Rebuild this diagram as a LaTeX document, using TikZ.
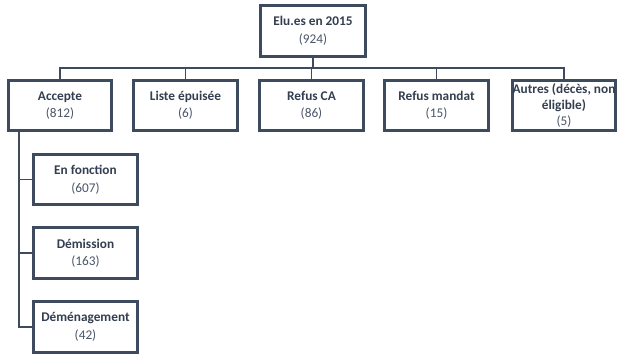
\documentclass[tikz,border=0pt]{standalone}
\usepackage{fontspec}
\setmainfont{Carlito}
\usetikzlibrary{backgrounds}
\definecolor{boxc}{HTML}{3E4B5E}
\definecolor{titc}{HTML}{333F50}
\definecolor{numc}{HTML}{4A5568}
\newcommand{\ttl}[1]{\textbf{\textcolor{titc}{#1}}}
\begin{document}
\begin{tikzpicture}[x=1pt,y=1pt,
  box/.style={draw=boxc, line width=2.7pt, fill=white, minimum width=103.5pt, minimum height=50.5pt,
    align=center, inner sep=0pt, font=\fontsize{13.3}{17.5}\selectfont, text=numc},
  conn/.style={draw=boxc, line width=1.3pt}]
\useasboundingbox (0,0) rectangle (617,-354);
\node[box, minimum width=105.5pt] (top) at (313,-31) {\ttl{Elu.es en 2015}\\(924)};
\node[box] (acc) at (60,-105.5) {\ttl{Accepte}\\(812)};
\node[box] (lis) at (185.5,-105.5) {\ttl{Liste épuisée}\\(6)};
\node[box] (rca) at (311.5,-105.5) {\ttl{Refus CA}\\(86)};
\node[box] (rma) at (436.5,-105.5) {\ttl{Refus mandat}\\(15)};
\node[box, font=\fontsize{13.3}{16}\selectfont] (aut) at (564,-105.5) {\ttl{Autres (décès, non}\\\ttl{éligible)}\\(5)};
\node[box] (enf) at (85.5,-179.5) {\ttl{En fonction}\\(607)};
\node[box] (dem) at (85.5,-253) {\ttl{Démission}\\(163)};
\node[box] (dmg) at (85.5,-327) {\ttl{Déménagement}\\(42)};
\coordinate (bar) at (0,-68);
\coordinate (vx) at (19,0);
\begin{pgfonlayer}{background}
\foreach \n in {acc,lis,rca,rma,aut}{
  \draw[conn] (top.south) |- (bar -| \n.north) -- (\n.north);
}
\foreach \n in {enf,dem,dmg}{
  \draw[conn] (acc.south -| vx) |- (\n.west);
}
\end{pgfonlayer}
\end{tikzpicture}
\end{document}
